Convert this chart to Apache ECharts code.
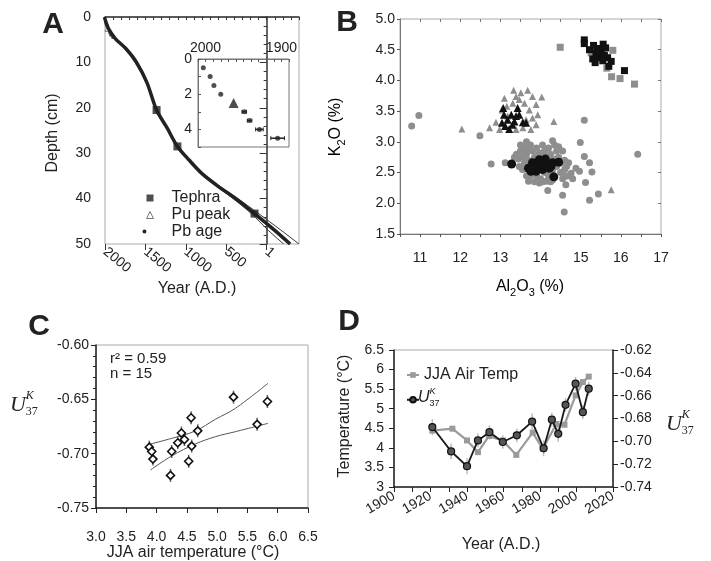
<!DOCTYPE html>
<html><head><meta charset="utf-8">
<script src="https://cdn.jsdelivr.net/npm/echarts@6/dist/echarts.min.js"></script>
<style>html,body{margin:0;padding:0;background:#fff}#c{width:711px;height:561px}</style>
</head><body><div id="c"></div>
<script>
const FONT = '"Liberation Sans", Arial, sans-serif';
const SERIF = '"Liberation Serif", "Times New Roman", serif';

// ---------- Panel A: age-depth model ----------
const ageDepthBest  = [[2008,0],[1990,1],[1950,2.8],[1870,4.8],[1740,7],[1610,10],[1480,14.5],[1362,20.5],[1230,24.5],[1104,28.5],[960,31.5],[800,34.5],[600,37.3],[400,39.8],[150,43.3],[-100,47],[-290,50]];
const ageDepthYoung = [[2008,0],[1990,1],[1950,2.8],[1870,4.8],[1750,7],[1630,10],[1490,14.5],[1362,20.5],[1230,24.5],[1104,28.5],[960,31.5],[810,34.5],[620,37.3],[430,39.8],[190,43.3],[-20,47],[-210,50]];
const ageDepthOld   = [[2008,0],[1990,1],[1950,2.8],[1870,4.8],[1735,7],[1600,10],[1475,14.5],[1362,20.5],[1230,24.5],[1104,28.5],[955,31.5],[790,34.5],[580,37.3],[370,39.8],[100,43.3],[-180,47],[-400,50]];
const tephraPts = [[1362,20.5],[1104,28.5],[150,43.3]];
const puPeak = [[1963,2.5]];
const pbAges = [[2003,0.5],[1994,1.0],[1989,1.5],[1980,2.0],[1949,3.0],[1942,3.5],[1929,4.0],[1905,4.5]];
const pbAgeErr = [0,0,0,0,3,3,5,9];
const yearTicksA = [2000,1500,1000,500,0];

// ---------- Panel B: tephra geochemistry ----------
const grayCircles = [[10.79,3.26],[10.97,3.43],[12.49,3.10],[12.77,2.64],[13.12,2.66],[13.47,2.60],[15.09,3.35],[14.99,2.99],[16.42,2.80],[14.59,1.86],[14.55,2.13],[14.18,2.21],[15.22,2.05],[15.44,2.15],[15.12,2.34],[15.28,2.51],[15.22,2.66],[15.09,2.76],[14.63,2.44],[14.63,2.30],[14.88,2.57],[14.76,2.49],[14.97,2.52],[14.70,2.66],[13.70,2.36],[13.97,2.33],[14.14,2.36],[14.30,2.38],[13.80,2.49],[14.18,2.57],[13.50,2.85],[13.55,2.75],[13.60,2.90],[13.65,2.80],[13.70,2.70],[13.75,2.95],[13.80,2.85],[13.85,2.75],[13.90,2.90],[13.95,2.80],[14.00,2.70],[14.05,2.95],[14.10,2.85],[14.15,2.75],[14.20,2.90],[14.25,2.80],[14.30,2.70],[14.35,2.95],[14.40,2.85],[14.45,2.75],[14.50,2.65],[13.60,2.65],[13.70,2.60],[13.80,2.55],[13.90,2.45],[14.00,2.40],[14.10,2.50],[14.20,2.45],[14.30,2.55],[14.40,2.60],[14.50,2.50],[14.60,2.55],[13.45,2.72],[13.50,2.95],[13.65,3.00],[14.30,3.02],[14.45,2.92],[14.55,2.85],[14.60,2.70],[13.40,2.80],[13.35,2.75],[13.75,2.45],[14.05,2.35],[14.15,2.55],[13.95,2.60],[14.35,2.42],[14.70,2.45],[14.80,2.40],[14.25,2.35],[13.55,2.55],[13.85,2.35],[14.55,2.40],[13.65,2.45],[14.65,2.60],[13.58,2.82],[13.72,2.88],[14.02,2.82],[14.22,2.68],[14.38,2.72],[13.88,2.68]];
const blackCircles = [[13.28,2.64],[13.70,2.57],[13.80,2.66],[13.93,2.60],[14.01,2.66],[14.12,2.72],[14.14,2.61],[14.22,2.57],[14.05,2.55],[13.89,2.52],[14.30,2.66],[14.33,2.43],[14.45,2.67],[13.76,2.52],[13.97,2.71],[14.26,2.60]];
const grayTriangles = [[12.04,3.21],[12.73,3.23],[12.89,3.32],[13.04,3.52],[13.10,3.71],[13.33,3.84],[13.51,3.80],[13.68,3.84],[13.80,3.74],[14.03,3.73],[13.89,3.61],[13.72,3.52],[13.93,3.44],[13.89,3.28],[13.76,3.20],[13.56,3.23],[13.39,3.20],[12.98,3.20],[14.33,3.33],[15.76,2.22],[13.47,3.69],[13.31,3.63],[13.18,3.42],[13.64,3.36],[13.80,3.39],[13.39,3.74],[13.60,3.63],[13.16,3.58]];
const blackTriangles = [[13.07,3.55],[13.09,3.44],[13.04,3.31],[13.18,3.36],[13.27,3.44],[13.35,3.33],[13.43,3.55],[13.47,3.44],[13.56,3.32],[13.64,3.31],[13.22,3.21],[13.12,3.26],[13.39,3.42],[13.30,3.28]];
const graySquares = [[14.49,4.54],[15.80,4.49],[15.65,4.20],[15.77,4.06],[15.98,4.03],[16.34,3.94],[15.46,4.37],[15.26,4.45]];
const blackSquares = [[15.09,4.66],[15.09,4.60],[15.22,4.50],[15.32,4.57],[15.38,4.45],[15.30,4.35],[15.42,4.37],[15.51,4.50],[15.56,4.59],[15.59,4.41],[15.67,4.37],[15.76,4.31],[15.70,4.23],[15.46,4.45],[15.36,4.29],[15.62,4.53],[16.09,4.16],[15.55,4.32],[15.42,4.52]];

// ---------- Panel C: calibration ----------
const jjaTempC = [3.88,3.92,3.94,4.25,4.23,4.35,4.41,4.46,4.57,4.58,4.53,4.68,5.27,5.66,5.83];
const u37C     = [-0.694,-0.698,-0.705,-0.698,-0.720,-0.690,-0.681,-0.687,-0.667,-0.693,-0.707,-0.679,-0.648,-0.673,-0.652];
const u37ErrC  = [0.006,0.006,0.006,0.006,0.006,0.006,0.006,0.006,0.006,0.006,0.006,0.006,0.006,0.006,0.006];
const bandUpper = [[3.90,-0.6911],[4.25,-0.6859],[4.64,-0.6791],[4.97,-0.6684],[5.30,-0.6583],[5.84,-0.6352]];
const bandLower = [[3.90,-0.7150],[4.25,-0.7021],[4.64,-0.6911],[4.97,-0.6844],[5.30,-0.6798],[5.84,-0.6721]];

// ---------- Panel D: time series ----------
const yearsJJA = [1921,1932,1940,1946,1952,1959.6,1967,1976,1981.5,1989,1993.4,1999.5,2003.5,2006.7];
const jjaTempD = [4.44,4.49,4.19,3.89,4.30,4.19,3.82,4.39,3.98,4.61,4.59,5.34,5.68,5.82];
const yearsU37 = [1921,1931.3,1940,1946,1952.3,1959.6,1967.3,1975.7,1982,1986.5,1990,1994,1999.5,2003.5,2006.7];
const u37D     = [-0.6875,-0.7088,-0.7218,-0.6992,-0.6920,-0.7006,-0.6947,-0.6827,-0.7061,-0.6810,-0.6934,-0.6680,-0.6495,-0.6745,-0.6539];
const u37ErrD  = [0.007,0.007,0.007,0.006,0.006,0.006,0.006,0.007,0.007,0.006,0.007,0.006,0.006,0.006,0.006];

// ---------- helpers ----------
const lbl = (o) => Object.assign({fontFamily: FONT, fontSize: 14, color: '#222'}, o || {});
const line = (c, w) => ({show: true, lineStyle: {color: c || '#333', width: w || 1}});

function errSeries(xi, yi, data, color, horiz, cap) {
  return {
    type: 'custom', xAxisIndex: xi, yAxisIndex: yi, silent: true, z: 1, data: data,
    renderItem: function (params, api) {
      const x = api.value(0), y = api.value(1), e = api.value(2);
      if (!e) return null;
      const a = horiz ? api.coord([x - e, y]) : api.coord([x, y - e]);
      const b = horiz ? api.coord([x + e, y]) : api.coord([x, y + e]);
      const ch = [{type: 'line', shape: {x1: a[0], y1: a[1], x2: b[0], y2: b[1]}, style: {stroke: color, lineWidth: 1.5}}];
      if (cap && horiz) {
        ch.push({type: 'line', shape: {x1: a[0], y1: a[1] - cap, x2: a[0], y2: a[1] + cap}, style: {stroke: color, lineWidth: 1}});
        ch.push({type: 'line', shape: {x1: b[0], y1: b[1] - cap, x2: b[0], y2: b[1] + cap}, style: {stroke: color, lineWidth: 1}});
      }
      return {type: 'group', children: ch};
    }
  };
}

function uLabel(x, y, fam, size) {
  return [
    {type: 'text', x: x, y: y, style: {text: 'U', font: 'italic ' + size + 'px ' + fam, fill: '#222', textVerticalAlign: 'middle'}},
    {type: 'text', x: x + size * 0.72, y: y - size * 0.42, style: {text: 'K', font: 'italic ' + Math.round(size * 0.55) + 'px ' + fam, fill: '#222', textVerticalAlign: 'middle'}},
    {type: 'text', x: x + size * 0.72, y: y + size * 0.33, style: {text: '37', font: Math.round(size * 0.55) + 'px ' + fam, fill: '#222', textVerticalAlign: 'middle'}}
  ];
}
function txt(x, y, s, size, opts) {
  return Object.assign({type: 'text', x: x, y: y, style: Object.assign({text: s, font: (opts && opts.weight ? opts.weight + ' ' : '') + size + 'px ' + FONT, fill: '#222', textAlign: 'center', textVerticalAlign: 'middle'}, opts && opts.style)}, opts && opts.el);
}

const subRich = {a: {fontSize: 16, fontFamily: FONT, color: '#222', lineHeight: 22}, b: {fontSize: 11, fontFamily: FONT, color: '#222', lineHeight: 22, verticalAlign: 'bottom'}};

const chart = echarts.init(document.getElementById('c'), null, {renderer: 'canvas'});
chart.setOption({
  animation: false,
  backgroundColor: '#fff',
  grid: [
    {left: 105, top: 17, width: 194, height: 227, show: true, borderColor: '#aaa', borderWidth: 1},
    {left: 198, top: 59, width: 91, height: 88, show: true, borderColor: '#777', borderWidth: 1, backgroundColor: '#fff'},
    {left: 400, top: 19, width: 261, height: 215, show: true, borderColor: '#aaa', borderWidth: 1},
    {left: 96, top: 345, width: 212, height: 163, show: true, borderColor: '#aaa', borderWidth: 1},
    {left: 394, top: 350, width: 219, height: 137, show: true, borderColor: '#aaa', borderWidth: 1}
  ],
  xAxis: [
    {gridIndex: 0, type: 'value', min: -400, max: 2000, interval: 100, inverse: true,
      axisLine: line('#333', 1.5), axisTick: {show: true, length: 3, lineStyle: {color: '#333'}}, splitLine: {show: false},
      axisLabel: lbl({rotate: -40, margin: 6, fontSize: 14, formatter: v => (v % 500 === 0 && v >= 0) ? (v === 0 ? '1' : String(v)) : ''})},
    {gridIndex: 0, type: 'value', min: -400, max: 2000, inverse: true, position: 'bottom',
      axisLine: {show: false}, splitLine: {show: false}, axisLabel: {show: false},
      axisTick: {show: true, length: 6, customValues: yearTicksA, lineStyle: {color: '#333'}}},
    {gridIndex: 1, type: 'value', min: 1890, max: 2010, interval: 10, inverse: true, position: 'top',
      axisLine: line('#777', 1), axisTick: {show: true, inside: true, length: 3, lineStyle: {color: '#555'}}, splitLine: {show: false},
      axisLabel: lbl({margin: 4, formatter: v => (v === 2000 || v === 1900) ? String(v) : ''})},
    {gridIndex: 2, type: 'value', min: 10.5, max: 17, interval: 0.5,
      axisLine: line('#777', 1), axisTick: {show: true, length: 3, lineStyle: {color: '#555'}}, splitLine: {show: false},
      axisLabel: lbl({margin: 17, formatter: v => (Math.abs(v - Math.round(v)) < 1e-6) ? String(Math.round(v)) : ''})},
    {gridIndex: 2, type: 'value', min: 10.5, max: 17, interval: 0.5, position: 'top',
      axisLine: {show: false}, axisTick: {show: true, inside: true, length: 3, lineStyle: {color: '#777'}}, axisLabel: {show: false}, splitLine: {show: false}},
    {gridIndex: 3, type: 'value', min: 3, max: 6.5, interval: 0.5,
      axisLine: line('#222', 1.5), axisTick: {show: true, length: 5, lineStyle: {color: '#222'}}, splitLine: {show: false},
      axisLabel: lbl({margin: 22, formatter: v => v.toFixed(1)})},
    {gridIndex: 4, type: 'value', min: 1900, max: 2020, interval: 20,
      axisLine: line('#222', 1.5), axisTick: {show: true, length: 5, lineStyle: {color: '#222'}}, splitLine: {show: false},
      minorTick: {show: true, splitNumber: 2, length: 5, lineStyle: {color: '#222'}},
      axisLabel: lbl({rotate: 30, margin: 8, formatter: v => String(v)})}
  ],
  yAxis: [
    {gridIndex: 0, type: 'value', min: 0, max: 50, interval: 10, inverse: true,
      axisLine: line('#333', 1.5), axisTick: {show: true, length: 7, lineStyle: {color: '#333'}}, splitLine: {show: false},
      minorTick: {show: true, splitNumber: 5, length: 3, lineStyle: {color: '#333'}},
      axisLabel: lbl({margin: 14})},
    {gridIndex: 1, type: 'value', min: 0, max: 5, interval: 1, inverse: true,
      axisLine: line('#777', 1), axisTick: {show: true, inside: true, length: 3, lineStyle: {color: '#555'}}, splitLine: {show: false},
      axisLabel: lbl({margin: 6, formatter: v => (v % 2 === 0 && v < 5) ? String(v) : ''})},
    {gridIndex: 2, type: 'value', min: 1.5, max: 5, interval: 0.5,
      axisLine: line('#777', 1), axisTick: {show: true, length: 3, lineStyle: {color: '#555'}}, splitLine: {show: false},
      axisLabel: lbl({margin: 5, formatter: v => v.toFixed(1)})},
    {gridIndex: 2, type: 'value', min: 1.5, max: 5, interval: 0.5, position: 'right',
      axisLine: {show: false}, axisTick: {show: true, inside: true, length: 3, lineStyle: {color: '#777'}}, axisLabel: {show: false}, splitLine: {show: false}},
    {gridIndex: 3, type: 'value', min: -0.75, max: -0.60, interval: 0.05,
      axisLine: line('#222', 1.5), axisTick: {show: true, length: 5, lineStyle: {color: '#222'}}, splitLine: {show: false},
      minorTick: {show: true, splitNumber: 5, length: 3, lineStyle: {color: '#222'}},
      axisLabel: lbl({margin: 7, formatter: v => v.toFixed(2)})},
    {gridIndex: 4, type: 'value', min: 3, max: 6.5, interval: 0.5,
      axisLine: line('#222', 1.5), axisTick: {show: true, length: 5, lineStyle: {color: '#222'}}, splitLine: {show: false},
      axisLabel: lbl({margin: 10, formatter: v => String(+v.toFixed(1))})},
    {gridIndex: 4, type: 'value', min: -0.74, max: -0.62, interval: 0.02, position: 'right',
      axisLine: line('#222', 1.5), axisTick: {show: true, length: 5, lineStyle: {color: '#222'}}, splitLine: {show: false},
      axisLabel: lbl({margin: 7, formatter: v => v.toFixed(2)})}
  ],
  legend: [
    {orient: 'vertical', left: 141, top: 185, itemWidth: 7, itemHeight: 7, itemGap: 1,
      textStyle: {fontFamily: FONT, fontSize: 16, color: '#222', padding: [0, 0, 0, 13]},
      data: [
        {name: 'Tephra', icon: 'rect', itemStyle: {color: '#222', borderWidth: 0}},
        {name: 'Pu peak', icon: 'triangle', itemStyle: {color: '#fff', borderColor: '#555', borderWidth: 1}},
        {name: 'Pb age', icon: 'path://M0,0L10,0L10,10L0,10Z', itemStyle: {color: '#fff', borderWidth: 0}}
      ]},
    {orient: 'vertical', left: 401, top: 362, itemWidth: 12, itemHeight: 7, itemGap: 13,
      textStyle: {fontFamily: FONT, fontSize: 16, color: '#222'},
      formatter: n => n === 'U37' ? '' : n,
      data: ['JJA Air Temp', 'U37']}
  ],
  series: [
    {name: 'model young', type: 'line', xAxisIndex: 0, yAxisIndex: 0, data: ageDepthYoung, smooth: 0.3, showSymbol: false, lineStyle: {color: '#333', width: 1}, silent: true},
    {name: 'model old', type: 'line', xAxisIndex: 0, yAxisIndex: 0, data: ageDepthOld, smooth: 0.3, showSymbol: false, lineStyle: {color: '#333', width: 1}, silent: true},
    {name: 'model best', type: 'line', xAxisIndex: 0, yAxisIndex: 0, data: ageDepthBest, smooth: 0.3, showSymbol: false, lineStyle: {color: '#222', width: 3.5}, silent: true},
    {name: 'Pb age', type: 'scatter', xAxisIndex: 0, yAxisIndex: 0, data: pbAges, symbol: 'circle', symbolSize: 3, itemStyle: {color: '#222'}},
    {name: 'Pu peak', type: 'scatter', xAxisIndex: 0, yAxisIndex: 0, data: puPeak, symbol: 'triangle', symbolSize: 6, itemStyle: {color: '#fff', borderColor: '#666', borderWidth: 1}},
    {name: 'Tephra', type: 'scatter', xAxisIndex: 0, yAxisIndex: 0, data: tephraPts, symbol: 'rect', symbolSize: 8, itemStyle: {color: '#222'}, z: 5},
    errSeries(2, 1, pbAges.map((p, i) => [p[0], p[1], pbAgeErr[i]]), '#222', true, 2),
    {name: 'Pb inset', type: 'scatter', xAxisIndex: 2, yAxisIndex: 1, data: pbAges, symbol: 'circle', symbolSize: 5, itemStyle: {color: '#222'}},
    {name: 'Pu inset', type: 'scatter', xAxisIndex: 2, yAxisIndex: 1, data: puPeak, symbol: 'triangle', symbolSize: 10, itemStyle: {color: '#222'}},
    {name: 'gc', type: 'scatter', xAxisIndex: 3, yAxisIndex: 2, data: grayCircles, symbol: 'circle', symbolSize: 7, itemStyle: {color: '#8e8e8e', opacity: 1}},
    {name: 'gt', type: 'scatter', xAxisIndex: 3, yAxisIndex: 2, data: grayTriangles, symbol: 'triangle', symbolSize: 7, itemStyle: {color: '#8e8e8e', opacity: 1}},
    {name: 'gs', type: 'scatter', xAxisIndex: 3, yAxisIndex: 2, data: graySquares, symbol: 'rect', symbolSize: 7, itemStyle: {color: '#8e8e8e', opacity: 1}},
    {name: 'bc', type: 'scatter', xAxisIndex: 3, yAxisIndex: 2, data: blackCircles, symbol: 'circle', symbolSize: 9, itemStyle: {color: '#111', opacity: 1}},
    {name: 'bt', type: 'scatter', xAxisIndex: 3, yAxisIndex: 2, data: blackTriangles, symbol: 'triangle', symbolSize: 8, itemStyle: {color: '#111', opacity: 1}},
    {name: 'bs', type: 'scatter', xAxisIndex: 3, yAxisIndex: 2, data: blackSquares, symbol: 'rect', symbolSize: 7, itemStyle: {color: '#111', opacity: 1}},
    {name: 'band upper', type: 'line', xAxisIndex: 5, yAxisIndex: 4, data: bandUpper, smooth: 0.4, showSymbol: false, lineStyle: {color: '#555', width: 1}, silent: true},
    {name: 'band lower', type: 'line', xAxisIndex: 5, yAxisIndex: 4, data: bandLower, smooth: 0.4, showSymbol: false, lineStyle: {color: '#555', width: 1}, silent: true},
    errSeries(5, 4, jjaTempC.map((t, i) => [t, u37C[i], u37ErrC[i]]), '#666', false),
    {name: 'calib', type: 'scatter', xAxisIndex: 5, yAxisIndex: 4, data: jjaTempC.map((t, i) => [t, u37C[i]]), symbol: 'diamond', symbolSize: 8, itemStyle: {color: '#fff', borderColor: '#111', borderWidth: 1.6, opacity: 1}, z: 5},
    errSeries(6, 6, yearsU37.map((y, i) => [y, u37D[i], u37ErrD[i]]), '#bbb', false),
    {name: 'JJA Air Temp', type: 'line', xAxisIndex: 6, yAxisIndex: 5, data: yearsJJA.map((y, i) => [y, jjaTempD[i]]), symbol: 'rect', symbolSize: 6, lineStyle: {color: '#9a9a9a', width: 2.2}, itemStyle: {color: '#9a9a9a'}},
    {name: 'U37', type: 'line', xAxisIndex: 6, yAxisIndex: 6, data: yearsU37.map((y, i) => [y, u37D[i]]), symbol: 'circle', symbolSize: 7, lineStyle: {color: '#1a1a1a', width: 1.8}, itemStyle: {color: '#555', borderColor: '#111', borderWidth: 1.2}, z: 4}
  ],
  graphic: [
    txt(53, 25, 'A', 30, {weight: 'bold'}),
    txt(347, 23, 'B', 30, {weight: 'bold'}),
    txt(39, 327, 'C', 30, {weight: 'bold'}),
    txt(349, 322, 'D', 30, {weight: 'bold'}),
    {type: 'circle', shape: {cx: 144.5, cy: 231.5, r: 2}, style: {fill: '#222'}, silent: true},
    txt(53, 133, 'Depth (cm)', 16, {el: {rotation: Math.PI / 2}}),
    txt(197, 289, 'Year (A.D.)', 16),
    {type: 'text', x: 336, y: 127, rotation: Math.PI / 2, style: {text: '{a|K}{b|2}{a|O (%)}', rich: subRich, textAlign: 'center', textVerticalAlign: 'middle'}},
    {type: 'text', x: 530, y: 287, style: {text: '{a|Al}{b|2}{a|O}{b|3}{a| (%)}', rich: subRich, textAlign: 'center', textVerticalAlign: 'middle'}},
    txt(193, 553, 'JJA air temperature (°C)', 16),
    txt(501, 545, 'Year (A.D.)', 16),
    txt(345, 416, 'Temperature (°C)', 16, {el: {rotation: Math.PI / 2}}),
    txt(110, 359, 'r² = 0.59', 15, {style: {textAlign: 'left'}}),
    txt(110, 374, 'n = 15', 15, {style: {textAlign: 'left'}})
  ].concat(uLabel(10, 405, SERIF, 22)).concat(uLabel(666, 424, SERIF, 22)).concat(uLabel(418, 398, FONT, 16))
});
</script></body></html>
